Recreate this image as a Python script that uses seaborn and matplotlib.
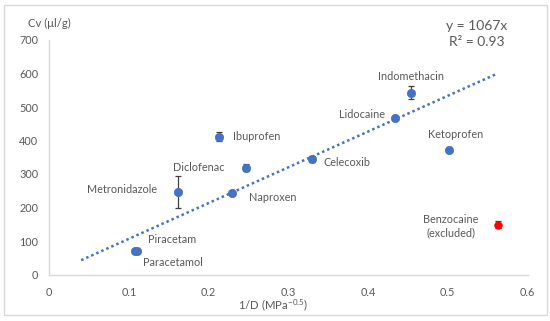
import matplotlib
matplotlib.use("Agg")
import matplotlib.pyplot as plt
import seaborn as sns
import pandas as pd
from matplotlib.patches import Rectangle

# ---- data ----
drugs = ["Paracetamol", "Piracetam", "Metronidazole", "Ibuprofen", "Naproxen",
         "Diclofenac", "Celecoxib", "Lidocaine", "Indomethacin", "Ketoprofen"]
inv_d = [0.108, 0.110, 0.161, 0.213, 0.229, 0.247, 0.330, 0.434, 0.454, 0.501]
cv = [70, 70, 247, 411, 244, 319, 345, 468, 543, 372]
cv_err = [0, 0, 48, 13, 0, 11, 9, 0, 20, 0]

excl_name = ["Benzocaine\n(excluded)"]
excl_x = [0.563]
excl_y = [149]
excl_err = [10]

slope = 1067
trend_x = [0.04, 0.56]

x_ticks = [0, 0.1, 0.2, 0.3, 0.4, 0.5, 0.6]
x_tick_labels = ["0", "0.1", "0.2", "0.3", "0.4", "0.5", "0.6"]
y_ticks = [0, 100, 200, 300, 400, 500, 600, 700]

# label offsets (pixels) and alignment
label_pos = {
    "Paracetamol": (8, -11, "left"),
    "Piracetam": (11, 12, "left"),
    "Metronidazole": (-21, 2, "right"),
    "Ibuprofen": (14, 0, "left"),
    "Naproxen": (17, -5, "left"),
    "Diclofenac": (-22, 0, "right"),
    "Celecoxib": (11, -4, "left"),
    "Lidocaine": (-10, 3, "right"),
    "Indomethacin": (0, 16, "center"),
    "Ketoprofen": (7, 15, "center"),
}

sns.set_theme(style="white")
plt.rcParams["font.family"] = ["Lato", "DejaVu Sans"]
plt.rcParams["mathtext.fontset"] = "custom"
plt.rcParams["mathtext.rm"] = "Lato"
plt.rcParams["mathtext.it"] = "Lato"

TXT = "#595959"
BLUE = "#4472C4"

fig = plt.figure(figsize=(5.5, 3.21), dpi=100)
ax = fig.add_axes([49.3 / 550, 1 - 274.5 / 321, (527.5 - 49.3) / 550, (274.5 - 40) / 321])

df = pd.DataFrame({"x": inv_d, "y": cv, "err": cv_err, "name": drugs})
dfe = pd.DataFrame({"x": excl_x, "y": excl_y, "err": excl_err})
dft = pd.DataFrame({"x": trend_x, "y": [slope * v for v in trend_x]})

sns.lineplot(data=dft, x="x", y="y", ax=ax, color=BLUE, linestyle=(0, (1, 1.2)),
             linewidth=1.8, zorder=1)

ax.errorbar(df["x"], df["y"], yerr=df["err"], fmt="none", ecolor="#404040",
            elinewidth=0.9, capsize=2.5, capthick=0.9, zorder=2)
ax.errorbar(dfe["x"], dfe["y"], yerr=dfe["err"], fmt="none", ecolor="#404040",
            elinewidth=0.9, capsize=2.5, capthick=0.9, zorder=2)

sns.scatterplot(data=df, x="x", y="y", ax=ax, color=BLUE, s=36, edgecolor=BLUE,
                linewidth=0.5, zorder=3)
sns.scatterplot(data=dfe, x="x", y="y", ax=ax, color="#FF0000", s=30, edgecolor="#FF0000",
                linewidth=0.5, zorder=3)

for n, xv, yv in zip(drugs, inv_d, cv):
    dx, dy, ha = label_pos[n]
    ax.annotate(n, (xv, yv), xytext=(dx, dy), textcoords="offset pixels",
                ha=ha, va="center", fontsize=7.8, color=TXT)
ax.annotate(excl_name[0], (excl_x[0], excl_y[0]), xytext=(-47, -2),
            textcoords="offset pixels", ha="center", va="center",
            fontsize=7.8, color=TXT, linespacing=1.25)

ax.set_xlim(0, 0.6)
ax.set_ylim(0, 700)
ax.set_xticks(x_ticks)
ax.set_xticklabels(x_tick_labels)
ax.set_yticks(y_ticks)
ax.set_xlabel("")
ax.set_ylabel("")
ax.tick_params(axis="both", length=0, labelsize=7.8, labelcolor=TXT)
ax.tick_params(axis="x", pad=9)
ax.tick_params(axis="y", pad=8)
for s in ["top", "right"]:
    ax.spines[s].set_visible(False)
for s in ["left", "bottom"]:
    ax.spines[s].set_color("#D9D9D9")
    ax.spines[s].set_linewidth(1.0)
ax.grid(False)
ax.set_facecolor("none")

fig.text(28 / 550, 1 - 23 / 321, "Cv (μl/g)", ha="left", va="center", fontsize=8.2, color=TXT)
fig.text(273.5 / 550, 1 - 305 / 321, "1/D (MPa$^{-0.5}$)", ha="center", va="center",
         fontsize=8.2, color=TXT)
fig.text(477 / 550, 1 - 34 / 321, "y = 1067x\nR² = 0.93", ha="center", va="center",
         fontsize=10, color=TXT, linespacing=1.3)

fig.patches.append(Rectangle((4 / 550, 1 - 315 / 321), 543 / 550, 310 / 321,
                             transform=fig.transFigure, fill=False,
                             edgecolor="#D9D9D9", linewidth=1.0))

fig.savefig("out.png", dpi=100)
